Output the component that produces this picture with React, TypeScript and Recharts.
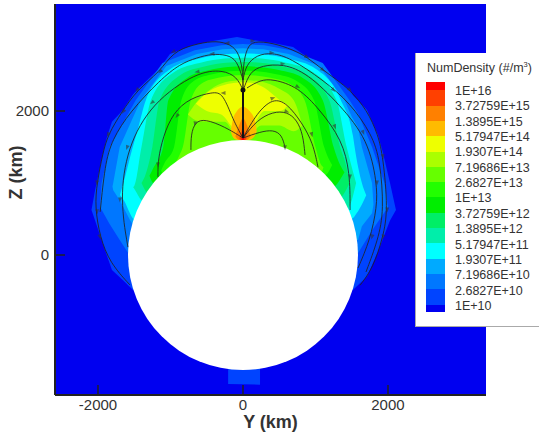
import React from 'react';
import { Area, ComposedChart, ReferenceDot, Scatter, XAxis, YAxis } from 'recharts';

// [y km, lower z km, upper z km] for each filled contour band
const background = [[-2593, -1944, 3486], [3352, -1944, 3486]];
const band1 = [[-2090, 625, 625], [-2040, 480, 900], [-1930, 150, 1420], [-1876, -10, 1640], [-1807, -208, 1850], [-1655, -350, 2014], [-1517, -486, 2230], [-1462, -486, 2292], [-1145, -486, 2600], [-1007, -486, 2790], [-690, -486, 2917], [-414, -486, 2972], [-83, -486, 3028], [138, -486, 2986], [414, -486, 2944], [690, -486, 2889], [883, -486, 2750], [1103, -486, 2569], [1297, -486, 2430], [1476, -486, 2292], [1517, -486, 2220], [1710, -300, 2014], [1862, 50, 1667], [1931, 230, 1417], [2028, 480, 1000], [2110, 625, 625]];
const wake = [[-205, -1790, -1500], [235, -1800, -1500]];
const band2 = [[-1972, 667, 667], [-1950, 630, 1000], [-1840, 430, 1500], [-1700, 210, 1753], [-1586, 30, 1960], [-1480, 0, 2150], [-1110, 0, 2665], [-666, 0, 2844], [-296, 0, 2914], [0, 0, 2930], [294, 0, 2914], [660, 0, 2844], [1100, 0, 2665], [1470, 0, 2150], [1590, 30, 1960], [1780, 340, 1500], [1950, 590, 1000], [2000, 667, 667]];
const band3 = [[-1800, 950, 950], [-1790, 900, 1000], [-1700, 760, 1500], [-1559, 486, 1816], [-1500, 400, 1948], [-1410, 400, 2150], [-1058, 400, 2625], [-635, 400, 2791], [-282, 400, 2856], [0, 400, 2870], [280, 400, 2856], [630, 400, 2791], [1050, 400, 2625], [1400, 200, 2150], [1500, 200, 1920], [1587, 208, 1770], [1640, 400, 1500], [1780, 580, 1000], [1800, 700, 700]];
const band4 = [[-1697, 833, 833], [-1650, 770, 1000], [-1520, 510, 1500], [-1450, 450, 1750], [-1340, 450, 2150], [-1005, 450, 2579], [-603, 450, 2728], [-268, 450, 2787], [0, 450, 2800], [270, 450, 2787], [607, 450, 2728], [1012, 450, 2579], [1350, 450, 2150], [1518, 514, 1650], [1540, 540, 1500], [1640, 700, 1000], [1700, 830, 830]];
const band5 = [[-1517, 944, 944], [-1500, 920, 960], [-1400, 760, 1500], [-1270, 700, 2150], [-952, 700, 2539], [-571, 700, 2675], [-254, 700, 2728], [0, 700, 2740], [258, 700, 2728], [580, 700, 2675], [967, 700, 2539], [1290, 700, 2150], [1430, 620, 1500], [1480, 700, 1300], [1560, 1000, 1000]];
const band6 = [[-1400, 1000, 1000], [-1350, 900, 1100], [-1250, 800, 1500], [-1150, 800, 2150], [-862, 800, 2500], [-517, 800, 2622], [-230, 800, 2669], [0, 800, 2680], [238, 800, 2669], [535, 800, 2622], [892, 800, 2500], [1190, 800, 2150], [1340, 800, 1500], [1420, 900, 1250], [1470, 1000, 1000]];
const band7 = [[-1290, 1100, 1100], [-1240, 1000, 1200], [-1100, 950, 1500], [-1030, 950, 2150], [-772, 950, 2460], [-463, 950, 2568], [-206, 950, 2610], [0, 950, 2620], [220, 950, 2610], [495, 950, 2568], [825, 950, 2460], [1100, 950, 2150], [1250, 950, 1500], [1340, 1050, 1250], [1400, 1150, 1150]];
const band8 = [[-1130, 1170, 1170], [-1080, 1100, 1280], [-950, 1100, 1500], [-850, 1100, 2150], [-675, 1100, 2420], [-405, 1100, 2515], [-180, 1100, 2552], [0, 1100, 2560], [196, 1100, 2552], [441, 1100, 2515], [735, 1100, 2420], [980, 1100, 2150], [1120, 1100, 1500], [1230, 1250, 1250]];
const band9 = [[-920, 1300, 1300], [-880, 1200, 1380], [-830, 1200, 1500], [-720, 1200, 2150], [-570, 1200, 2381], [-342, 1200, 2461], [-152, 1200, 2493], [0, 1200, 2500], [170, 1200, 2493], [382, 1200, 2461], [637, 1200, 2381], [850, 1200, 2150], [1000, 1200, 1500], [1080, 1150, 1250], [1110, 1220, 1220]];
const band10 = [[-760, 1950, 1950], [-620, 1860, 2150], [-450, 1850, 2300], [-250, 1850, 2400], [-120, 1680, 2420], [0, 1600, 2430], [120, 1680, 2425], [250, 1800, 2410], [500, 1800, 2310], [700, 1720, 2150], [820, 1800, 1800]];
const band11 = [[-650, 2100, 2100], [-500, 2000, 2250], [-300, 1950, 2350], [-130, 1750, 2390], [0, 1620, 2400], [130, 1780, 2390], [300, 2000, 2320], [510, 2000, 2150], [620, 2080, 2080]];
const band12 = [[-170, 1720, 1720], [-140, 1640, 1880], [-90, 1600, 1990], [0, 1590, 2060], [90, 1600, 2000], [160, 1650, 1880], [190, 1720, 1720]];
const band13 = [[-105, 1650, 1650], [-60, 1600, 1780], [0, 1590, 1900], [60, 1600, 1790], [105, 1650, 1650]];
const band14 = [[-50, 1620, 1620], [-20, 1590, 1720], [0, 1590, 1790], [20, 1590, 1720], [50, 1620, 1620]];
const band15 = [[-20, 1600, 1600], [0, 1590, 1690], [20, 1600, 1600]];

// colours run low to high, same order as the legend swatches (bottom up)
const scaleColors = ['#0000f0', '#0044ff', '#0077ff', '#00aaff', '#00ffff', '#00eeaa', '#00ee66', '#00ee00', '#22ff00', '#66ff00', '#aaff00', '#eeff00', '#ffbb00', '#ff8000', '#ff4000', '#ff0000'];
const scaleLabels = ['1E+16', '3.72759E+15', '1.3895E+15', '5.17947E+14', '1.9307E+14', '7.19686E+13', '2.6827E+13', '1E+13', '3.72759E+12', '1.3895E+12', '5.17947E+11', '1.9307E+11', '7.19686E+10', '2.6827E+10', '1E+10'];

const bands = [
  { rows: background, color: scaleColors[0] },
  { rows: band1, color: scaleColors[1] },
  { rows: wake, color: scaleColors[1] },
  { rows: band2, color: scaleColors[2] },
  { rows: band3, color: scaleColors[3] },
  { rows: band4, color: scaleColors[4] },
  { rows: band5, color: scaleColors[5] },
  { rows: band6, color: scaleColors[6] },
  { rows: band7, color: scaleColors[7] },
  { rows: band8, color: scaleColors[8] },
  { rows: band9, color: scaleColors[9] },
  { rows: band10, color: scaleColors[10] },
  { rows: band11, color: scaleColors[11] },
  { rows: band12, color: scaleColors[12] },
  { rows: band13, color: scaleColors[13] },
  { rows: band14, color: scaleColors[14] },
  { rows: band15, color: scaleColors[15] },
];

// streamlines, [y km, z km]
const innerLeft = [[0, 1625], [-248, 1780], [-524, 1890], [-662, 1850], [-718, 1670], [-718, 1460]];
const innerRight = [[0, 1625], [235, 1710], [414, 1740], [538, 1670], [580, 1490]];
const midLeft = [[0, 1625], [-138, 1875], [-276, 2250], [-414, 2265], [-731, 2180], [-966, 1975], [-1104, 1640], [-1173, 1320], [-1173, 1085]];
const midRight = [[0, 1625], [193, 1875], [414, 1990], [607, 1990], [745, 1875], [828, 1670], [856, 1390]];
const midRight2 = [[0, 1625], [193, 1975], [414, 2180], [607, 2110], [814, 1835], [966, 1555], [1035, 1220]];
const outerLeft = [[0, 2290], [0, 2570], [-69, 2850], [-221, 2945], [-414, 2975], [-690, 2920], [-966, 2820], [-1145, 2545], [-1463, 2290], [-1670, 1990], [-1863, 1670], [-1932, 1420], [-2015, 1000], [-2042, 667], [-1973, 250], [-1835, -110], [-1560, -415]];
const outerLeft2 = [[0, 2430], [-83, 2710], [-221, 2780], [-428, 2795], [-635, 2740], [-869, 2655], [-1145, 2430], [-1559, 1990], [-1808, 1600], [-1905, 1250], [-1970, 600]];
const outerLeft3 = [[0, 2290], [-83, 2475], [-276, 2570], [-635, 2545], [-1256, 2115], [-1600, 1490], [-1697, 765], [-1587, 110]];
const outerRight = [[0, 2290], [0, 2640], [55, 2875], [138, 2975], [414, 2945], [690, 2850], [883, 2750], [1104, 2570], [1297, 2430], [1476, 2290], [1711, 2015], [1863, 1670], [1932, 1365], [2001, 625], [1932, 250], [1794, -180], [1615, -420]];
const outerRight2 = [[0, 2430], [41, 2640], [193, 2780], [400, 2810], [649, 2740], [1104, 2430], [1477, 2115], [1780, 1670], [1891, 1320], [1946, 625], [1863, 210], [1697, -235]];
const outerRight3 = [[14, 2320], [97, 2545], [262, 2630], [552, 2655], [883, 2530], [1339, 2085], [1725, 1600], [1849, 1000], [1849, 667], [1753, 210], [1587, -180]];
const outerRight4 = [[55, 2320], [235, 2430], [414, 2445], [759, 2335], [1063, 2015], [1366, 1600], [1477, 1140], [1477, 625]];
const streamlines = [innerLeft, innerRight, midLeft, midRight, midRight2, outerLeft, outerLeft2, outerLeft3, outerRight, outerRight2, outerRight3, outerRight4];
const centerLine = [[0, 1625], [0, 2300]];

// arrowheads, [y km, z km, heading deg]
const arrows = [
  [-221, 2945, 180], [-428, 2795, 180], [-635, 2545, 170], [-276, 2250, 180], [-910, 1930, 125], [-662, 1820, 100],
  [-1256, 2115, 140], [-966, 2820, 150], [-1145, 2545, 140], [-1463, 2290, 130], [-1650, 1990, 125], [-1863, 1670, 115],
  [-1600, 1490, 110], [-1697, 765, 90], [-1173, 1250, 90], [-2015, 1000, 95], [-2010, 600, 85], [-1973, 250, 75],
  [138, 2975, 0], [400, 2810, 0], [552, 2655, 0], [759, 2335, 30], [414, 2180, -20], [607, 1990, 20],
  [883, 2750, 30], [1104, 2570, 35], [1250, 2290, 45], [1476, 2290, 50], [1270, 1780, 70], [950, 1670, 75],
  [1660, 1700, 70], [580, 1490, 90], [1477, 1085, 90], [1849, 1000, 90], [1990, 625, 90], [1932, 250, 100], [1780, 250, 105], [1932, 1365, 80],
];

const yTicks = [-2000, 0, 2000];
const zTicks = [0, 2000];

const allX = Array.from(new Set(bands.flatMap((b) => b.rows.map((r) => r[0])))).sort((a, b) => a - b);
const table = allX.map((x) => {
  const row: any = { x };
  bands.forEach((b, i) => {
    const hit = b.rows.find((r) => r[0] === x);
    if (hit) row[`band${i}`] = [hit[1], hit[2]];
  });
  return row;
});

const toPoints = (line: number[][]) => line.map(([x, z]) => ({ x, z }));
const arrowPoints = arrows.map(([x, z, heading]) => ({ x, z, heading }));

const XTick = ({ x, y, payload }: any) => (
  <g>
    <line x1={x} x2={x} y1={395} y2={385} stroke="#222" strokeWidth={1.5} />
    <text x={x} y={y + 13} textAnchor="middle" fontSize={15} fill="#333">{payload.value}</text>
  </g>
);

const YTick = ({ x, y, payload }: any) => (
  <g>
    <line x1={55} x2={65} y1={y} y2={y} stroke="#222" strokeWidth={1.5} />
    <text x={49} y={y + 5} textAnchor="end" fontSize={15} fill="#333">{payload.value}</text>
  </g>
);

const ArrowHead = ({ cx, cy, payload }: any) => (
  <path d="M2.5,0 L-2.5,-1.9 L-2.5,1.9 Z" transform={`translate(${cx},${cy}) rotate(${payload.heading})`} fill="#333" fillOpacity={0.6} />
);

const NoPoint = () => null;

const ScaleLegend = () => (
  <div style={{ position: 'absolute', left: 415, top: 53, width: 124, height: 274, background: '#fff', borderLeft: '1px solid #aaa', borderBottom: '1px solid #aaa', boxSizing: 'border-box', color: '#333' }}>
    <div style={{ position: 'absolute', left: 11, top: 8, fontSize: 12.5, whiteSpace: 'nowrap' }}>
      NumDensity (#/m<sup style={{ fontSize: 7.5, lineHeight: 0 }}>3</sup>)
    </div>
    {scaleColors.map((c, i) => {
      const swatchIndex = scaleColors.length - 1 - i;
      const top = swatchIndex === 0 ? 0 : 7.6 + (swatchIndex - 1) * 15.3;
      const height = swatchIndex === 0 || swatchIndex === 15 ? 7.6 : 15.3;
      return <div key={c} style={{ position: 'absolute', left: 10, top: 29 + top, width: 19, height: height + 0.7, background: c }} />;
    })}
    {scaleLabels.map((label, i) => (
      <div key={label} style={{ position: 'absolute', left: 39, top: 31 + i * 15.35, fontSize: 12.5, lineHeight: '15px', whiteSpace: 'nowrap' }}>{label}</div>
    ))}
  </div>
);

export default function App() {
  return (
    <div style={{ position: 'absolute', left: 0, top: 0, width: 539, height: 434, background: '#fff', fontFamily: '"Liberation Sans", Arial, sans-serif', overflow: 'hidden' }}>
      <ComposedChart width={539} height={434} data={table} margin={{ top: 4, right: 53, bottom: 0, left: 0 }}>
        <XAxis
          dataKey="x"
          type="number"
          domain={[-2593, 3352]}
          ticks={yTicks}
          allowDataOverflow
          height={39}
          tickLine={false}
          tickSize={0}
          tick={<XTick />}
          stroke="#222"
          strokeWidth={2}
          label={{ value: 'Y (km)', position: 'insideBottom', offset: 6, fontSize: 18, fontWeight: 700, fill: '#333' }}
        />
        <YAxis
          type="number"
          domain={[-1944, 3486]}
          ticks={zTicks}
          allowDataOverflow
          width={55}
          tickLine={false}
          tickSize={0}
          tick={<YTick />}
          stroke="#222"
          strokeWidth={2}
          label={{ value: 'Z (km)', angle: -90, position: 'insideLeft', offset: 16, dy: 0, fontSize: 18, fontWeight: 700, fill: '#333' }}
        />
        {bands.map((b, i) => (
          <Area
            key={i}
            dataKey={`band${i}`}
            type={i >= 5 ? 'monotone' : 'linear'}
            connectNulls
            fill={b.color}
            fillOpacity={1}
            stroke="none"
            dot={false}
            activeDot={false}
            isAnimationActive={false}
          />
        ))}
        <ReferenceDot x={0} y={0} r={115} fill="#fff" stroke="none" />
        {streamlines.map((line, i) => (
          <Scatter
            key={i}
            data={toPoints(line)}
            dataKey="z"
            line={{ stroke: '#222', strokeWidth: 1, strokeOpacity: 0.85 }}
            lineJointType="basis"
            shape={NoPoint}
            isAnimationActive={false}
          />
        ))}
        <Scatter data={toPoints(centerLine)} dataKey="z" line={{ stroke: '#111', strokeWidth: 2 }} shape={NoPoint} isAnimationActive={false} />
        <Scatter data={arrowPoints} dataKey="z" shape={<ArrowHead />} isAnimationActive={false} />
        <ReferenceDot x={0} y={2290} r={2.5} fill="#111" stroke="none" />
      </ComposedChart>
      <ScaleLegend />
    </div>
  );
}
